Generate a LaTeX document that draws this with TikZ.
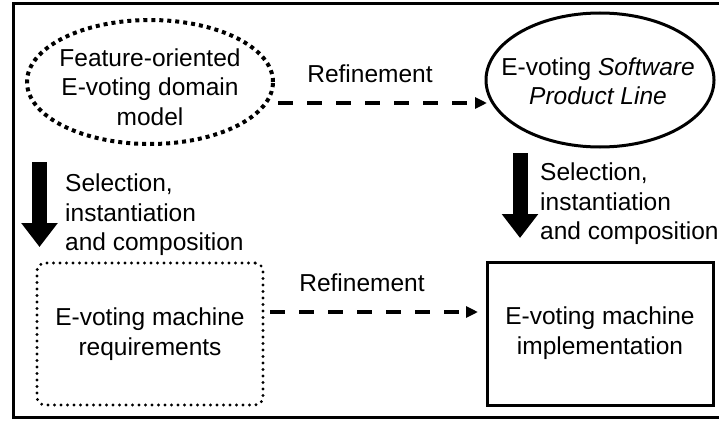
\documentclass[tikz,border=0pt]{standalone}
\usepackage{fontspec}
\setmainfont{Liberation Sans}
\usetikzlibrary{shapes.geometric,arrows.meta}
\tikzset{
  txt/.style={font=\fontsize{24.5}{29.5}\selectfont, align=center, inner sep=0pt},
  lbl/.style={font=\fontsize{24.5}{29.5}\selectfont, align=left, inner sep=0pt, anchor=north west},
  dotell/.style={ellipse, draw, line width=4pt, dash pattern=on 4pt off 4pt, minimum width=246pt, minimum height=124pt, inner sep=0pt},
  solell/.style={ellipse, draw, line width=3pt, minimum width=228pt, minimum height=134pt, inner sep=0pt},
  dotbox/.style={rectangle, draw, line width=3.2pt, line cap=round, dash pattern=on 0pt off 6.5pt, rounded corners=8pt, minimum width=226pt, minimum height=142pt, inner sep=0pt},
  solbox/.style={rectangle, draw, line width=3pt, minimum width=226pt, minimum height=143pt, inner sep=0pt},
  refine/.style={line width=4.5pt, dash pattern=on 15pt off 14pt, -{Triangle[length=12pt,width=11pt]}},
  blockarrow/.style={line width=15pt, -{Triangle[length=24pt,width=35pt]}},
}
\begin{document}
\begin{tikzpicture}[x=1pt,y=-1pt]
\useasboundingbox (0,0) rectangle (719,420);
\begin{scope}
\clip (0,0) rectangle (719,420);
\draw[line width=3pt] (730,4) -- (13,4) -- (13,417) -- (730,417);
\end{scope}

\node[dotell] (fm) at (150,82) {};
\node[txt] at (150,87) {Feature-oriented\\E-voting domain\\model};

\node[solell] (spl) at (600,80) {};
\node[txt] at (598,81) {E-voting \textit{Software}\\\textit{Product Line}};

\node[dotbox] (req) at (150,334) {};
\node[txt] at (150,334) {E-voting machine\\requirements};

\node[solbox] (impl) at (600,333.5) {};
\node[txt] at (600,333) {E-voting machine\\implementation};

\coordinate (r1s) at (278,103);
\coordinate (r1e) at (487,103);
\draw[refine] (r1s) -- (r1e);
\node[txt] (ref1) at (370,74) {Refinement};

\coordinate (r2s) at (270,312);
\coordinate (r2e) at (478,312);
\draw[refine] (r2s) -- (r2e);
\node[txt] (ref2) at (362,283) {Refinement};

\coordinate (a1s) at (39.5,162);
\coordinate (a1e) at (39.5,247);
\draw[blockarrow] (a1s) -- (a1e);
\node[lbl] (sel1) at (65,174) {Selection,\\instantiation\\and composition};

\coordinate (a2s) at (520,153);
\coordinate (a2e) at (520,238);
\draw[blockarrow] (a2s) -- (a2e);
\node[lbl] (sel2) at (540,163) {Selection,\\instantiation\\and composition};
\end{tikzpicture}
\end{document}
